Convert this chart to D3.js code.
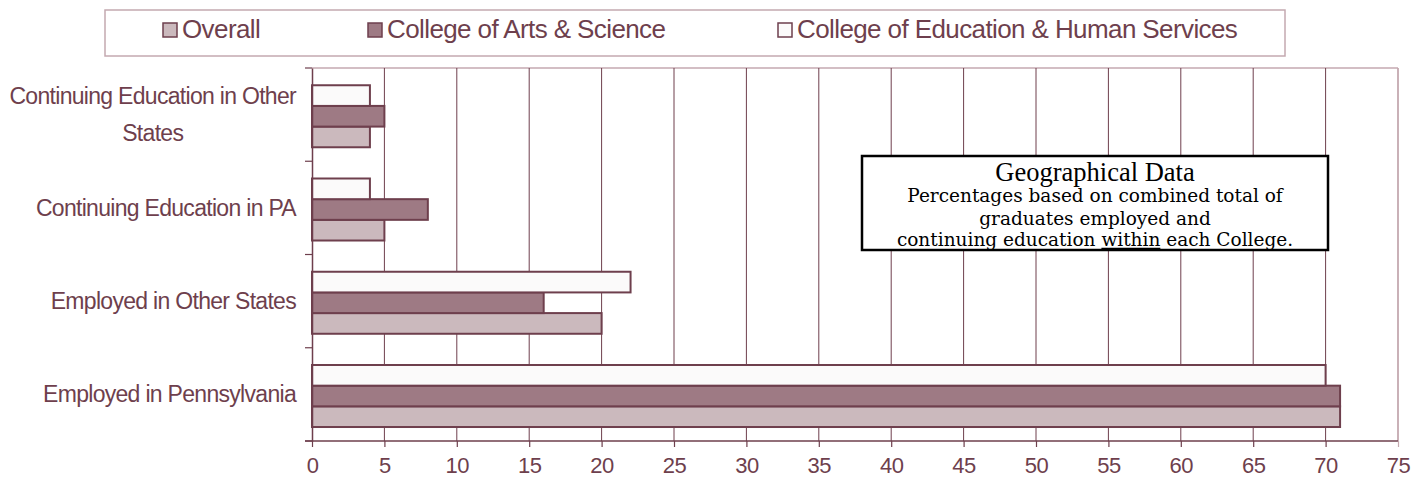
<!DOCTYPE html>
<html>
<head>
<meta charset="utf-8">
<script src="https://cdn.jsdelivr.net/npm/d3@7/dist/d3.min.js"></script>
<style>
  html, body { margin: 0; padding: 0; background: #fff; }
  svg { display: block; }
  .tick text { font-family: "Liberation Sans", Arial, sans-serif; }
</style>
</head>
<body>
<svg width="1428" height="487"></svg>
<script>
(function (d3) {
  'use strict';

  // data
  const categories = ['Continuing Education in Other States', 'Continuing Education in PA',
                      'Employed in Other States', 'Employed in Pennsylvania'];
  const seriesNames = ['Overall', 'College of Arts & Science', 'College of Education & Human Services'];
  const overall   = [4, 5, 20, 71];
  const artsSci   = [5, 8, 16, 71];
  const education = [4, 4, 22, 70];
  const xTicks = [0, 5, 10, 15, 20, 25, 30, 35, 40, 45, 50, 55, 60, 65, 70, 75];

  const ink = '#6e3f4d';
  const fills = { 'Overall': '#cbb9bd', 'College of Arts & Science': '#9e7a84',
                  'College of Education & Human Services': '#fbfafa' };

  const svg = d3.select('svg');
  const width = 1428, height = 487;
  const margin = { top: 68, right: 30, bottom: 46, left: 312 };

  const x = d3.scaleLinear().domain([0, 75]).range([margin.left, width - margin.right]);
  const y = d3.scaleBand().domain(categories).range([margin.top, height - margin.bottom]);
  // bars inside a category, top to bottom: Education, Arts, Overall
  const sub = d3.scaleBand().domain([seriesNames[2], seriesNames[1], seriesNames[0]])
      .range([y.bandwidth() * 0.185, y.bandwidth() * 0.85]);

  const rows = categories.map((c, i) => ({
    cat: c,
    vals: [
      { s: seriesNames[0], v: overall[i] },
      { s: seriesNames[1], v: artsSci[i] },
      { s: seriesNames[2], v: education[i] }
    ]
  }));

  // frame top
  svg.append('line')
      .attr('x1', x(0)).attr('x2', x(75)).attr('y1', margin.top).attr('y2', margin.top)
      .attr('stroke', '#c4a9b0').attr('stroke-width', 1.5);

  // vertical grid (the 75 line is the light right frame)
  svg.append('g').selectAll('line').data(xTicks.filter(t => t > 0))
    .enter().append('line')
      .attr('x1', d => x(d)).attr('x2', d => x(d))
      .attr('y1', margin.top).attr('y2', height - margin.bottom)
      .attr('stroke', d => d === 75 ? '#c4a9b0' : ink)
      .attr('stroke-width', d => d === 75 ? 1.8 : 1);

  // bars
  const groups = svg.append('g').selectAll('g').data(rows)
    .enter().append('g')
      .attr('transform', d => `translate(0,${y(d.cat)})`);

  groups.selectAll('rect').data(d => d.vals)
    .enter().append('rect')
      .attr('x', x(0))
      .attr('y', d => sub(d.s))
      .attr('width', d => x(d.v) - x(0))
      .attr('height', sub.bandwidth())
      .attr('fill', d => fills[d.s])
      .attr('stroke', ink)
      .attr('stroke-width', 2);

  // x axis
  const xAxis = svg.append('g')
      .attr('transform', `translate(0,${height - margin.bottom})`)
      .call(d3.axisBottom(x).tickValues(xTicks).tickSize(6).tickPadding(10));
  xAxis.select('.domain').attr('stroke', ink).attr('stroke-width', 1.5)
      .attr('d', `M${x(0) - 7},0H${x(75)}`);
  xAxis.selectAll('.tick line').attr('stroke', d => d === 75 ? '#c4a9b0' : ink).attr('stroke-width', 1.2);
  xAxis.selectAll('.tick text')
      .attr('fill', ink).attr('font-size', 22).style('letter-spacing', '-0.5px');

  // y axis
  const yAxis = svg.append('g')
      .attr('transform', `translate(${margin.left},0)`)
      .call(d3.axisLeft(y).tickSize(0).tickFormat(''));
  yAxis.select('.domain').attr('stroke', ink).attr('stroke-width', 1.5);
  yAxis.selectAll('.tick').remove();
  yAxis.selectAll('line.sep').data(categories.map(c => y(c)).concat([y.range()[1]]))
    .enter().append('line').attr('class', 'sep')
      .attr('x1', -7).attr('x2', 0).attr('y1', d => d).attr('y2', d => d)
      .attr('stroke', ink).attr('stroke-width', 1.2);

  // category labels (wrapped, centred block ending before the axis)
  const labelLines = {
    'Continuing Education in Other States': ['Continuing Education in Other', 'States']
  };
  const labelFont = '"Liberation Sans", Arial, sans-serif';
  categories.forEach(c => {
    const lines = labelLines[c] || [c];
    const t = svg.append('text')
        .attr('font-family', labelFont).attr('font-size', 23)
        .attr('fill', ink).style('letter-spacing', '-0.7px')
        .attr('text-anchor', 'middle');
    lines.forEach((ln, i) => {
      t.append('tspan').text(ln).attr('dy', i === 0 ? 0 : 37);
    });
    const w = d3.max(t.selectAll('tspan').nodes(), n => n.getComputedTextLength());
    const cx = margin.left - 16 - w / 2;
    const cy = y(c) + y.bandwidth() / 2 - (lines.length - 1) * 37 / 2 + 8;
    t.attr('y', cy);
    t.selectAll('tspan').attr('x', cx);
  });

  // legend
  const legend = svg.append('g');
  legend.append('rect')
      .attr('x', 105).attr('y', 10).attr('width', 1180).attr('height', 46)
      .attr('fill', '#fff').attr('stroke', '#c4a9b0').attr('stroke-width', 1.5);
  const legendX = [163, 368, 778];
  seriesNames.forEach((s, i) => {
    const g = legend.append('g').attr('transform', `translate(${legendX[i]},23)`);
    g.append('rect').attr('width', 14).attr('height', 14)
        .attr('fill', fills[s]).attr('stroke', ink).attr('stroke-width', 1.5);
    g.append('text').attr('x', 19).attr('y', 15)
        .attr('font-family', labelFont).attr('font-size', 26)
        .attr('fill', ink).style('letter-spacing', '-0.6px')
        .text(s);
  });

  // annotation box
  const note = svg.append('g').attr('transform', 'translate(862,156)');
  note.append('rect').attr('width', 466).attr('height', 94)
      .attr('fill', '#fff').attr('stroke', '#000').attr('stroke-width', 2.5);
  const serif = '"DejaVu Serif", "Liberation Serif", serif';
  note.append('text').attr('x', 233).attr('y', 25).attr('text-anchor', 'middle')
      .attr('font-family', '"Liberation Serif", serif').attr('font-size', 26.5).attr('fill', '#000')
      .text('Geographical Data');
  const noteLines = ['Percentages based on combined total of', 'graduates employed and'];
  noteLines.forEach((ln, i) => {
    note.append('text').attr('x', 233).attr('y', 46 + i * 23).attr('text-anchor', 'middle')
        .attr('font-family', serif).attr('font-size', 18.5).attr('fill', '#000').text(ln);
  });
  const last = note.append('text').attr('x', 233).attr('y', 90).attr('text-anchor', 'middle')
      .attr('font-family', serif).attr('font-size', 18.5).attr('fill', '#000');
  last.append('tspan').text('continuing education ');
  const within = last.append('tspan').text('within');
  last.append('tspan').text(' each College.');
  // underline under "within"
  const wn = within.node();
  const wx0 = wn.getStartPositionOfChar(0).x;
  const wx1 = wn.getEndPositionOfChar(wn.getNumberOfChars() - 1).x;
  note.append('line')
      .attr('x1', wx0).attr('x2', wx1).attr('y1', 92.5).attr('y2', 92.5)
      .attr('stroke', '#000').attr('stroke-width', 1.5);

}(d3));
</script>
</body>
</html>
